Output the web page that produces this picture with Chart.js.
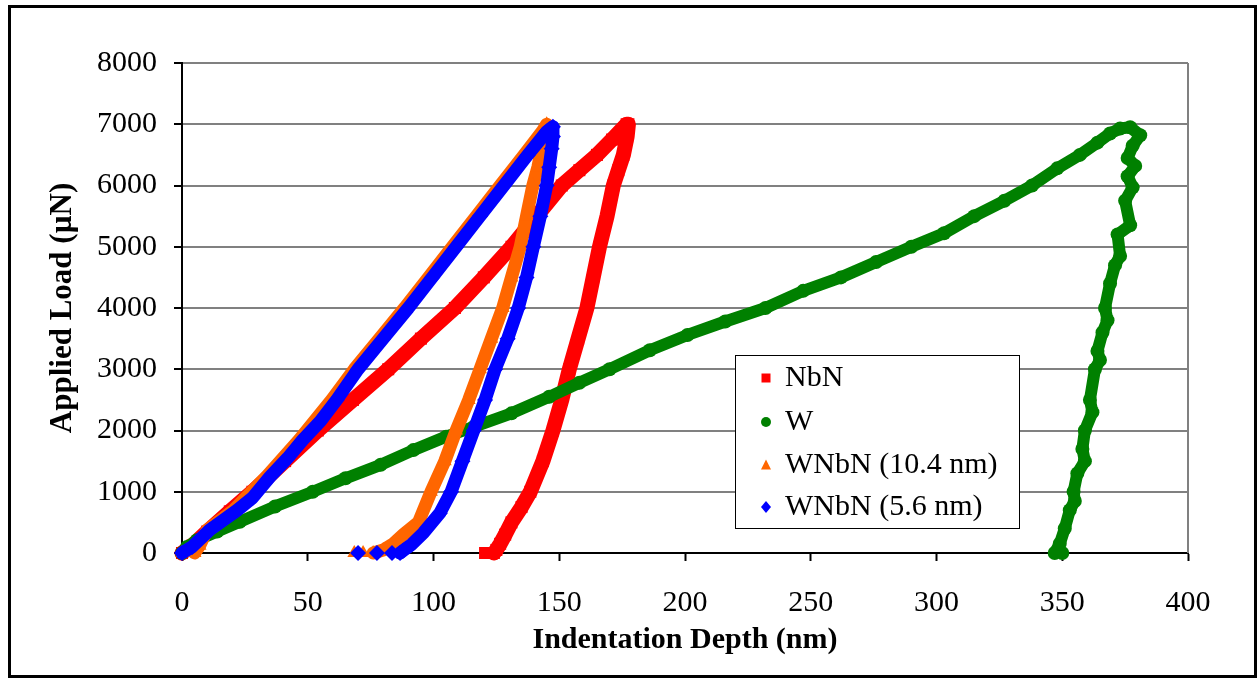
<!DOCTYPE html>
<html>
<head>
<meta charset="utf-8">
<title>Applied Load vs Indentation Depth</title>
<script src="https://cdn.jsdelivr.net/npm/chart.js@4/dist/chart.umd.min.js"></script>
<style>
  html, body { margin: 0; padding: 0; background: #fff; }
  #wrap { width: 1260px; height: 679px; }
</style>
</head>
<body>
<div id="wrap"><canvas id="chart" width="1260" height="679"></canvas></div>
<script>
// x ticks / y ticks
var depthTicks = [0, 50, 100, 150, 200, 250, 300, 350, 400];
var loadTicks = [0, 1000, 2000, 3000, 4000, 5000, 6000, 7000, 8000];

// NbN : loading then unloading
var nbnDepth = [0, 4, 10, 19, 28, 41, 54, 68, 82, 95, 108.5, 120, 131, 141, 151, 158, 165, 171, 176.8,
  177.5, 177, 175.5, 173.5, 171.5, 169, 166, 163.5, 161, 157.5, 154, 151, 147.5, 143.5, 138.5, 135, 131, 128.5, 126.5, 125, 124, 122, 120.5];
var nbnLoad = [0, 120, 350, 680, 1000, 1500, 2000, 2500, 3000, 3500, 4000, 4500, 5000, 5500, 6000, 6250, 6500, 6750, 7000,
  7000, 6800, 6500, 6250, 6000, 5500, 5000, 4500, 4000, 3500, 3000, 2500, 2000, 1500, 1000, 750, 500, 300, 150, 50, 0, 0, 0];

// W
var wDepth = [0, 2, 6, 14, 23, 37, 52, 65, 79, 92, 105, 116, 131, 146, 158, 170, 186, 201, 216, 232, 247, 262, 276, 290, 303, 315, 327, 338, 348, 357, 364, 369, 373,
  377, 381, 378, 376, 379, 376, 378, 375, 377, 372, 373, 371, 369, 367, 368, 366, 364, 365, 363, 361, 362, 359, 358, 359, 356, 354.5, 355, 353, 351, 349, 347, 350];
var wLoad = [0, 100, 210, 350, 510, 760, 1000, 1220, 1440, 1680, 1900, 2060, 2280, 2550, 2780, 3000, 3310, 3560, 3780, 4000, 4280, 4500, 4750, 5000, 5220, 5500, 5750, 6000, 6280, 6500, 6700, 6850, 6930,
  6950, 6820, 6650, 6450, 6320, 6150, 5970, 5750, 5350, 5200, 4850, 4700, 4400, 4000, 3800, 3600, 3300, 3150, 3000, 2500, 2300, 2000, 1700, 1500, 1300, 1000, 850, 700, 400, 150, 0, 0];

// WNbN (10.4 nm)
var w104Depth = [0, 5, 7, 10, 20.5, 33.5, 46.5, 59.5, 68.5, 78.5, 88.5, 98, 107.5, 117, 126.5, 136, 143.5, 145,
  143.5, 141.5, 139.5, 137, 134.5, 131, 127.5, 123, 118.5, 114, 109, 104.5, 99, 94, 88, 84, 80, 76, 72, 68.5];
var w104Load = [0, 0, 120, 375, 700, 1245, 1845, 2500, 3000, 3500, 4000, 4500, 5000, 5500, 6000, 6500, 6900, 7000,
  6700, 6300, 6000, 5500, 5000, 4500, 4000, 3500, 3000, 2500, 2000, 1500, 1000, 500, 300, 150, 50, 0, 0, 0];

// WNbN (5.6 nm)
var w56Depth = [0, 4, 11, 22, 28, 35, 42, 48, 55, 61.5, 70, 80, 90, 99.5, 109, 118.5, 128, 137.5, 145, 147.5,
  147.5, 147, 146, 145, 142.5, 139.7, 137, 133.7, 129.5, 124.5, 120.5, 116, 111.5, 107, 102.5, 96, 91, 88, 86.7, 83.5, 77.5, 70];
var w56Load = [0, 100, 375, 700, 900, 1245, 1550, 1845, 2150, 2500, 3000, 3500, 4000, 4500, 5000, 5500, 6000, 6500, 6880, 6960,
  6800, 6600, 6300, 6000, 5500, 5000, 4500, 4000, 3500, 3000, 2500, 2000, 1500, 1000, 650, 330, 130, 40, 0, 0, 0, 0];

var serif = '"Liberation Serif", "Times New Roman", serif';
Chart.defaults.font.family = serif;
Chart.defaults.color = '#000';

// the points lying on the x axis are separate markers, no band between them
var hideFlat = function(ctx) {
  return (ctx.p0.parsed.y === 0 && ctx.p1.parsed.y === 0) ? 'rgba(0,0,0,0)' : undefined;
};

function series(label, xs, ys, color, style, radius, width, order) {
  return {
    label: label,
    data: xs.map(function(x, i) { return {x: x, y: ys[i]}; }),
    showLine: true,
    borderColor: color,
    backgroundColor: color,
    borderWidth: width,
    borderJoinStyle: 'round',
    borderCapStyle: 'round',
    pointStyle: style,
    pointRadius: radius,
    pointBorderWidth: 0,
    pointBackgroundColor: color,
    order: order,
    clip: false,
    segment: { borderColor: hideFlat }
  };
}

function marker(ctx, style, x, y, color) {
  ctx.fillStyle = color;
  ctx.beginPath();
  if (style === 'rect') {
    ctx.rect(x - 4.5, y - 4.5, 9, 9);
  } else if (style === 'circle') {
    ctx.arc(x, y, 5, 0, Math.PI * 2);
  } else if (style === 'triangle') {
    ctx.moveTo(x, y - 5.5); ctx.lineTo(x + 5, y + 4.5); ctx.lineTo(x - 5, y + 4.5); ctx.closePath();
  } else {
    ctx.moveTo(x, y - 6); ctx.lineTo(x + 5, y); ctx.lineTo(x, y + 6); ctx.lineTo(x - 5, y); ctx.closePath();
  }
  ctx.fill();
}

var decor = {
  id: 'decor',
  beforeDatasetsDraw: function(chart) {
    var ctx = chart.ctx, a = chart.chartArea;
    ctx.save();
    ctx.strokeStyle = '#808080';
    ctx.lineWidth = 2;
    ctx.beginPath();
    ctx.moveTo(a.right, a.top);
    ctx.lineTo(a.right, a.bottom);
    ctx.stroke();
    ctx.restore();
  },
  afterDraw: function(chart) {
    var ctx = chart.ctx;
    ctx.save();
    // legend box
    ctx.fillStyle = '#fff';
    ctx.fillRect(735, 355, 284, 173);
    ctx.strokeStyle = '#000';
    ctx.lineWidth = 1;
    ctx.strokeRect(735.5, 355.5, 284, 173);
    var rows = [378, 422, 465, 507];
    ctx.font = '30px ' + serif;
    ctx.textBaseline = 'middle';
    chart.data.datasets.forEach(function(ds, r) {
      marker(ctx, ds.pointStyle, 766, rows[r], ds.borderColor);
      ctx.fillStyle = '#000';
      ctx.fillText(ds.label, 785, rows[r]);
    });
    // outer frame
    ctx.lineWidth = 3;
    ctx.strokeRect(9.5, 6.5, 1246, 670);
    ctx.restore();
  }
};

var plain = function(v) { return String(v); };

var chart = new Chart(document.getElementById('chart').getContext('2d'), {
  type: 'scatter',
  data: {
    datasets: [
      series('NbN', nbnDepth, nbnLoad, '#ff0000', 'rect', 8.5, 15, 4),
      series('W', wDepth, wLoad, '#008000', 'circle', 7, 12, 3),
      series('WNbN (10.4 nm)', w104Depth, w104Load, '#ff6600', 'triangle', 8, 13, 2),
      series('WNbN (5.6 nm)', w56Depth, w56Load, '#0000ff', 'rectRot', 8, 13, 1)
    ]
  },
  options: {
    responsive: false,
    animation: false,
    devicePixelRatio: 1,
    layout: { padding: { left: 10, right: 72, top: 63, bottom: 0 } },
    plugins: { legend: { display: false }, tooltip: { enabled: false } },
    scales: {
      x: {
        type: 'linear',
        min: depthTicks[0],
        max: depthTicks[depthTicks.length - 1],
        afterBuildTicks: function(s) { s.ticks = depthTicks.map(function(v) { return {value: v}; }); },
        ticks: { font: { size: 30 }, color: '#000', padding: 24, maxRotation: 0, callback: plain },
        grid: { drawOnChartArea: false, drawTicks: true, tickLength: 8, tickColor: '#000', tickWidth: 2 },
        border: { display: true, color: '#000', width: 2 },
        title: { display: true, text: 'Indentation Depth (nm)', color: '#000',
          font: { size: 30, weight: 'bold' }, padding: { top: 0, bottom: 21 } },
        afterFit: function(s) { s.height = 126; }
      },
      y: {
        type: 'linear',
        min: loadTicks[0],
        max: loadTicks[loadTicks.length - 1],
        afterBuildTicks: function(s) { s.ticks = loadTicks.map(function(v) { return {value: v}; }); },
        ticks: { font: { size: 30 }, color: '#000', padding: 17, callback: plain },
        grid: { color: '#808080', lineWidth: 2, tickColor: '#000', tickLength: 8, tickWidth: 2 },
        border: { display: true, color: '#000', width: 2 },
        title: { display: true, text: 'Applied Load (µN)', color: '#000',
          font: { size: 31, weight: 'bold' }, padding: { top: 34, bottom: 0 } },
        afterFit: function(s) { s.width = 172; }
      }
    }
  },
  plugins: [decor]
});
</script>
</body>
</html>
